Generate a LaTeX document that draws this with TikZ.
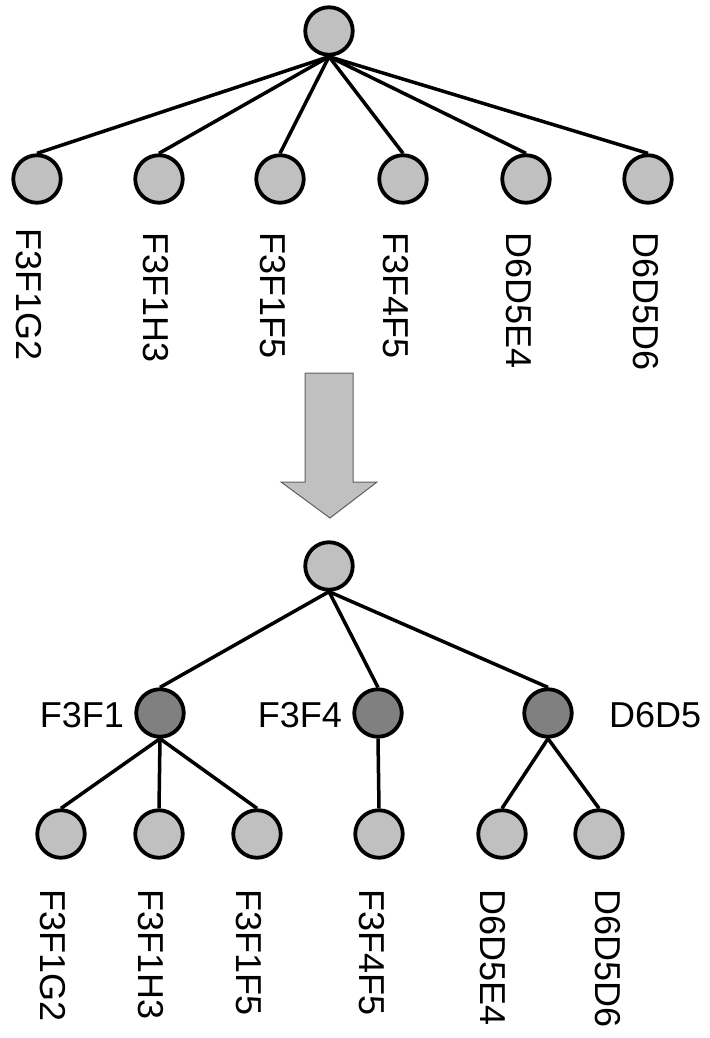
\documentclass[tikz,border=0pt]{standalone}
\usepackage{fontspec}
\setmainfont{Liberation Sans}
\definecolor{lightg}{HTML}{C0C0C0}
\definecolor{darkg}{HTML}{808080}
\definecolor{arrowline}{HTML}{606060}
\begin{document}
\begin{tikzpicture}[x=1pt,y=-1pt,
  leaf/.style={circle, draw=black, line width=3.8pt, fill=lightg, minimum size=47.5pt, inner sep=0pt},
  inner/.style={leaf, fill=darkg},
  edge/.style={line width=3.5pt},
  vlbl/.style={rotate=-90, anchor=west, inner sep=0pt, font=\fontsize{36}{40}\selectfont},
  hlbl/.style={inner sep=0pt, font=\fontsize{36}{40}\selectfont},
  bigarrow/.style={fill=lightg, draw=arrowline, line width=1pt, line join=miter}]
\useasboundingbox (0,0) rectangle (709,1038);

% ---------- top tree ----------
\node[leaf] (r1) at (329,31) {};
\node[leaf] (a1) at (37,179) {};
\node[leaf] (a2) at (159,179) {};
\node[leaf] (a3) at (280,179) {};
\node[leaf] (a4) at (403,179) {};
\node[leaf] (a5) at (526,179) {};
\node[leaf] (a6) at (648,179) {};
\foreach \c in {a1,a2,a3,a4,a5,a6} \draw[edge] (r1.south) -- (\c.north);

\node[vlbl] (ta1) at (29,228) {F3F1G2};
\node[vlbl] (ta2) at (156,232) {F3F1H3};
\node[vlbl] (ta3) at (273,232) {F3F1F5};
\node[vlbl] (ta4) at (396,232) {F3F4F5};
\node[vlbl] (ta5) at (519,232) {D6D5E4};
\node[vlbl] (ta6) at (646,232) {D6D5D6};

% ---------- block arrow ----------
\draw[bigarrow] (305,373) -- (353,373) -- (353,482) -- (377,482) -- (330,518)
  -- (281,482) -- (305,482) -- cycle;

% ---------- bottom tree ----------
\node[leaf] (r2) at (329,566) {};
\node[inner] (m1) at (160,713) {};
\node[inner] (m2) at (378,713) {};
\node[inner] (m3) at (548,713) {};
\node[leaf] (b1) at (61,834) {};
\node[leaf] (b2) at (159,834) {};
\node[leaf] (b3) at (257,834) {};
\node[leaf] (b4) at (379,834) {};
\node[leaf] (b5) at (502,834) {};
\node[leaf] (b6) at (599,834) {};

\foreach \c in {m1,m2,m3} \draw[edge] (r2.south) -- (\c.north);
\foreach \c in {b1,b2,b3} \draw[edge] (m1.south) -- (\c.north);
\draw[edge] (m2.south) -- (b4.north);
\foreach \c in {b5,b6} \draw[edge] (m3.south) -- (\c.north);

\node[hlbl, anchor=east] (lm1) at (124,715) {F3F1};
\node[hlbl, anchor=east] (lm2) at (342,715) {F3F4};
\node[hlbl, anchor=west] (lm3) at (609,715) {D6D5};

\node[vlbl] (tb1) at (53,889) {F3F1G2};
\node[vlbl] (tb2) at (151,889) {F3F1H3};
\node[vlbl] (tb3) at (249,889) {F3F1F5};
\node[vlbl] (tb4) at (372,889) {F3F4F5};
\node[vlbl] (tb5) at (493,889) {D6D5E4};
\node[vlbl] (tb6) at (608,889) {D6D5D6};
\end{tikzpicture}
\end{document}
